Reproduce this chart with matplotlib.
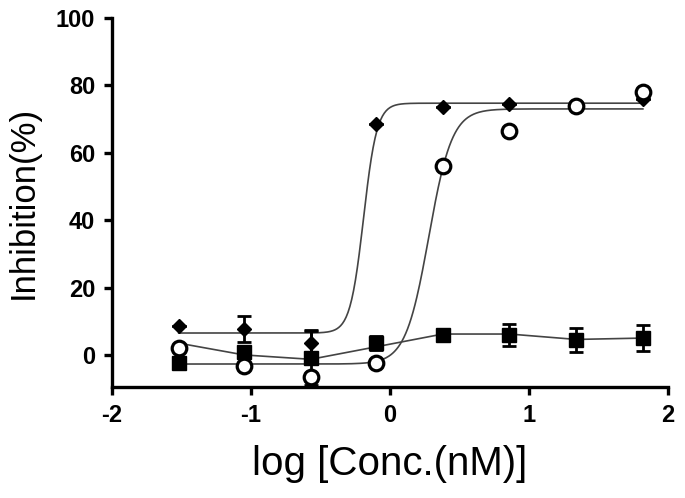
import numpy as np
import matplotlib.pyplot as plt

plt.rcParams['font.family'] = ['Liberation Sans', 'DejaVu Sans']
plt.rcParams['axes.unicode_minus'] = False

# log concentrations (nM)
log_conc = [-1.52, -1.05, -0.57, -0.10, 0.38, 0.86, 1.34, 1.82]

# diamonds
diamond_y = [8.5, 7.7, 3.5, 68.5, 73.5, 74.5, 74.0, 76.0]
diamond_err = [0.0, 3.9, 3.9, 0.0, 0.0, 0.0, 0.0, 0.0]
# open circles
circle_y = [2.0, -3.3, -6.5, -2.3, 56.0, 66.5, 74.0, 78.0]
# squares
square_y = [-2.5, 1.0, -1.0, 3.5, 6.0, 6.0, 4.5, 5.0]
square_err = [1.5, 1.5, 8.0, 2.0, 0.0, 3.3, 3.5, 3.8]
square_line = [3.5, 0.0, -1.3, 2.4, 6.2, 6.2, 4.6, 5.0]

# four-parameter logistic fit parameters: bottom, top, logIC50, hill
diamond_fit = (6.5, 74.7, -0.19, 9.0)
circle_fit = (-2.7, 73.0, 0.28, 5.2)


def four_pl(x, bottom, top, logc, hill):
    return bottom + (top - bottom) / (1 + 10 ** ((logc - x) * hill))


fig = plt.figure(figsize=(6.85, 4.98), dpi=100)
ax = fig.add_axes([0.1635, 0.223, 0.8115, 0.741])

xs = np.linspace(log_conc[0], log_conc[-1], 500)
ax.plot(xs, four_pl(xs, *diamond_fit), color='#444444', lw=1.2, zorder=2)
ax.plot(xs, four_pl(xs, *circle_fit), color='#444444', lw=1.2, zorder=2)
ax.plot(log_conc, square_line, color='#444444', lw=1.2, zorder=2)

ax.errorbar(log_conc, square_y, yerr=square_err, fmt='s', color='black',
            ms=9.5, capsize=5, elinewidth=2, capthick=2, zorder=3)
ax.errorbar(log_conc, diamond_y, yerr=diamond_err, fmt='D', color='black',
            ms=7.5, capsize=5, elinewidth=2, capthick=2, zorder=4)
ax.plot(log_conc, circle_y, 'o', mfc='white', mec='black', mew=2.3, ms=10.5,
        zorder=5)

ax.set_xlim(-2, 2)
ax.set_ylim(-9.5, 100)
ax.set_xticks([-2, -1, 0, 1, 2])
ax.set_yticks([0, 20, 40, 60, 80, 100])

for s in ['top', 'right']:
    ax.spines[s].set_visible(False)
for s in ['left', 'bottom']:
    ax.spines[s].set_linewidth(2.4)
ax.tick_params(width=2.4, length=6, labelsize=17, pad=6)
for lab in ax.get_xticklabels() + ax.get_yticklabels():
    lab.set_fontweight('bold')

ax.set_xlabel('log [Conc.(nM)]', fontsize=29, labelpad=13)
ax.set_ylabel('Inhibition(%)', fontsize=25, labelpad=12)

fig.savefig('out.png', dpi=100)
